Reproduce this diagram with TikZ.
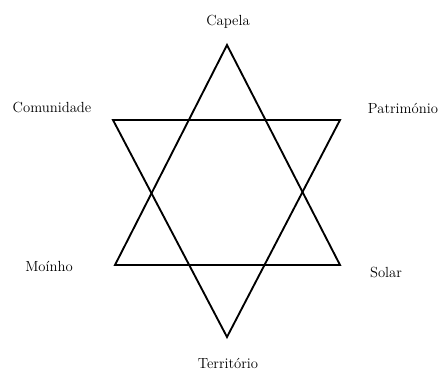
\documentclass[tikz,border=0pt]{standalone}
\usepackage{fontspec}

\begin{document}
\begin{tikzpicture}[x=0.75pt, y=-0.75pt, line width=1.4pt, font=\fontsize{11}{13}\selectfont]

        \useasboundingbox (0,0) rectangle (440,371);

        % vertices of the star
                \coordinate (top) at (227,45);
                \coordinate (bot) at (227,337);
                \coordinate (ul) at (113,120);
                \coordinate (ur) at (340,120);
                \coordinate (ll) at (115,265);
                \coordinate (lr) at (340,265);

        % the two triangles
                \draw (top) -- (lr) -- (ll) -- cycle;
                \draw (bot) -- (ul) -- (ur) -- cycle;

        % labels
                \node (capela) at (228,22) {Capela};
                \node (comunidade) at (52,107) {Comunidade};
                \node (patrimonio) at (403,108) {Património};
                \node (moinho) at (49,266) {Moínho};
                \node (solar) at (386,272) {Solar};
                \node (territorio) at (228,363) {Território};

\end{tikzpicture}
\end{document}
